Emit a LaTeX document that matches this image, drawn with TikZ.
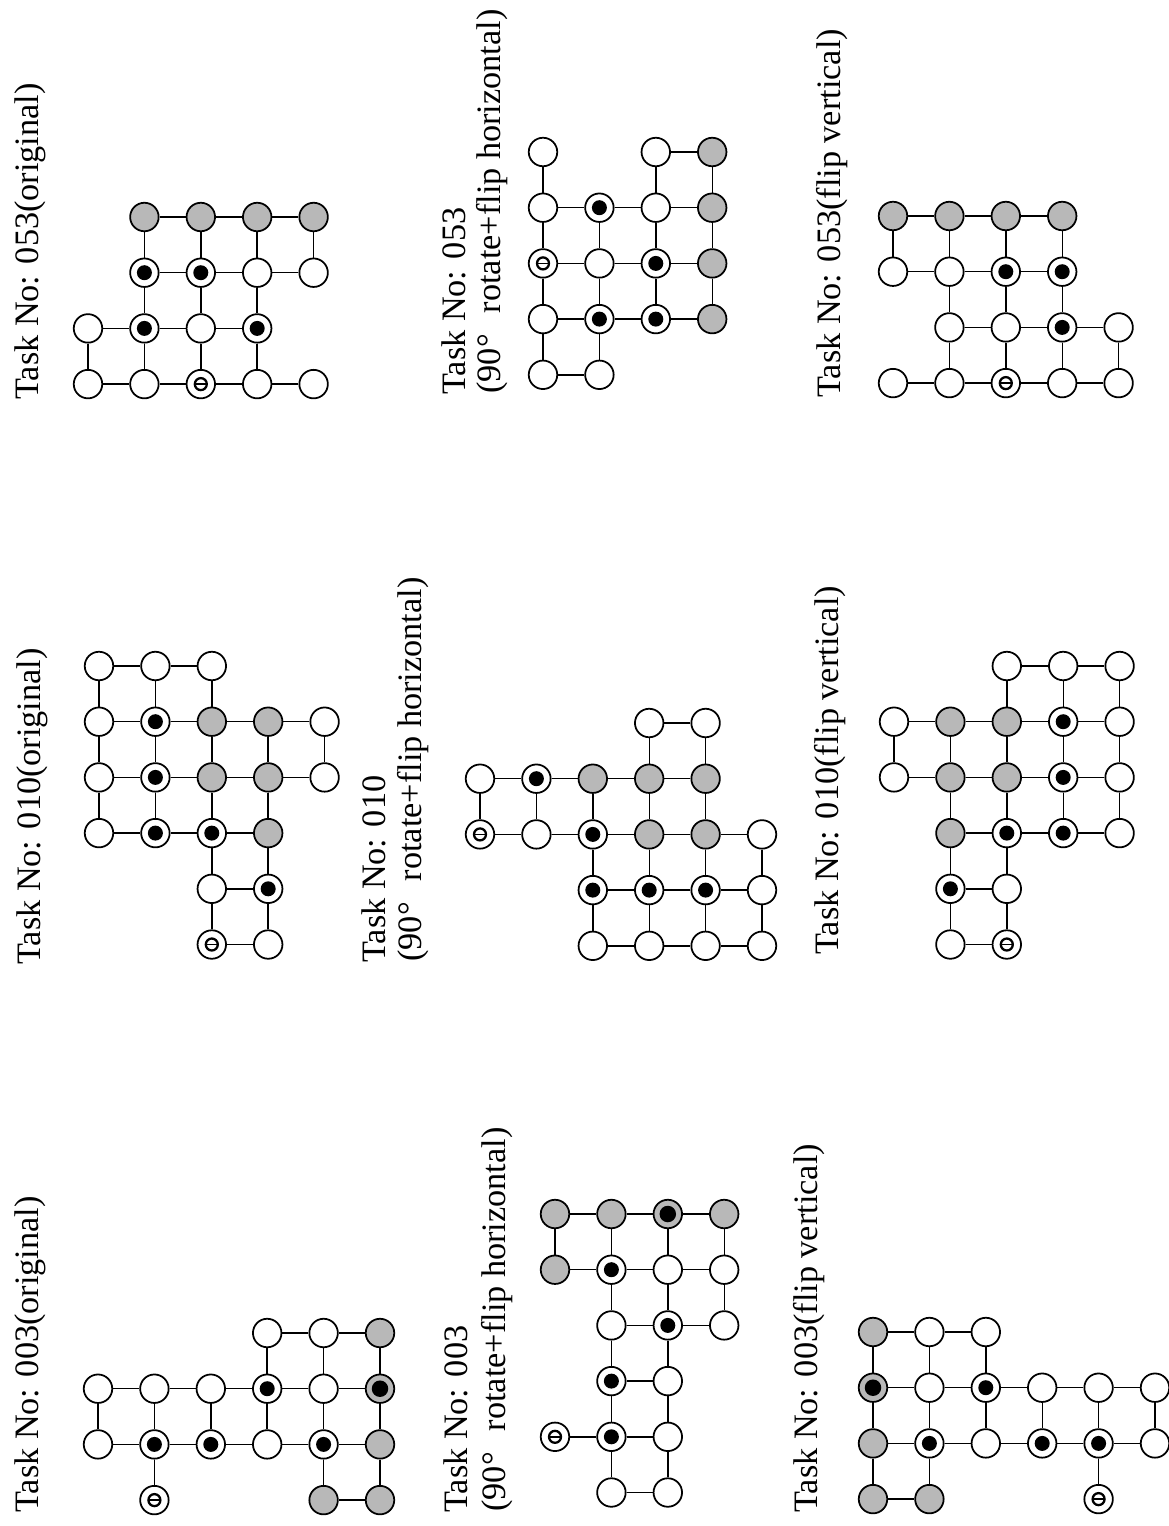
\documentclass[tikz,border=0pt]{standalone}
\usepackage{fontspec}
\setmainfont{Liberation Serif}
\newcommand{\lblfont}{\fontsize{19.5}{20}\selectfont}
\newcommand{\gx}{56.4}
\newcommand{\gy}{55.7}
% #1 name, #2 nodes col/row/kind, #3 row runs, #4 column runs
\newcommand{\taskgrid}[4]{%
  \foreach \cc/\rr/\kind in {#2}
    \node[pt\kind] (#1-\cc-\rr) at (\cc*\gx,\rr*\gy) {};
  \foreach \rr/\ra/\rb in {#3}{
    \pgfmathtruncatemacro\lastc{\rb-1}
    \foreach \cc in {\ra,...,\lastc}{
      \pgfmathtruncatemacro\nextc{\cc+1}
      \draw[ln] (#1-\cc-\rr) -- (#1-\nextc-\rr);
    }
  }
  \foreach \cc/\ra/\rb in {#4}{
    \pgfmathtruncatemacro\lastr{\rb-1}
    \foreach \rr in {\ra,...,\lastr}{
      \pgfmathtruncatemacro\nextr{\rr+1}
      \draw[ln] (#1-\cc-\rr) -- (#1-\cc-\nextr);
    }
  }
}

\begin{document}
\begin{tikzpicture}[x=0.02cm, y=-0.02cm,
    pt/.style={circle, draw, line width=1pt, minimum size=0.57cm, inner sep=0pt, fill=white},
    ptw/.style={pt},
    pts/.style={pt, fill=black!28},
    ptd/.style={pt, path picture={\fill[black] (path picture bounding box.center) circle (0.15cm);}},
    ptx/.style={pt, fill=black!28, path picture={\fill[black] (path picture bounding box.center) circle (0.165cm);}},
    pto/.style={pt, path picture={
        \draw[black, line width=1.3pt] (path picture bounding box.center) circle (0.12cm);
        \draw[black, line width=1pt] ([xshift=-0.12cm]path picture bounding box.center) -- ([xshift=0.12cm]path picture bounding box.center);}},
    ln/.style={line width=0.8pt},
    lbl/.style={rotate=90, anchor=base west, font=\lblfont, inner sep=0pt}
]
\useasboundingbox[fill=white] (0,0) rectangle (1169,1526);

% Task 053
\node[lbl] (t53o) at (38,400) {Task No: 053(original)};
\begin{scope}[shift={(88,217)}]
\taskgrid{p53o}{1/0/s,2/0/s,3/0/s,4/0/s, 1/1/d,2/1/d,3/1/w,4/1/w, 0/2/w,1/2/d,2/2/w,3/2/d, 0/3/w,1/3/w,2/3/o,3/3/w,4/3/w}
  {0/1/4, 1/1/4, 2/0/3, 3/0/4}{0/2/3, 1/0/3, 2/0/3, 3/0/3, 4/0/1}
\end{scope}

\node[lbl] (t53r) at (465,395) {Task No: 053};
\node[lbl] (t53r2) at (500,394) {(90°\hspace{12pt}rotate+flip horizontal)};
\begin{scope}[shift={(543,152)}]
\taskgrid{p53r}{0/0/w,0/1/w,0/2/o,0/3/w,0/4/w, 1/1/d,1/2/w,1/3/d,1/4/w, 2/0/w,2/1/w,2/2/d,2/3/d, 3/0/s,3/1/s,3/2/s,3/3/s}
  {0/2/3, 1/0/3, 2/0/3, 3/0/3, 4/0/1}{0/0/4, 1/1/4, 2/0/3, 3/0/3}
\end{scope}

\node[lbl] (t53f) at (840,398) {Task No: 053(flip vertical)};
\begin{scope}[shift={(893,216)}]
\taskgrid{p53f}{0/0/s,1/0/s,2/0/s,3/0/s, 0/1/w,1/1/w,2/1/d,3/1/d, 1/2/w,2/2/w,3/2/d,4/2/w, 0/3/w,1/3/w,2/3/o,3/3/w,4/3/w}
  {0/0/3, 1/0/3, 2/1/4, 3/0/4}{0/0/1, 1/0/3, 2/0/3, 3/0/3, 4/2/3}
\end{scope}

% Task 010
\node[lbl] (t10o) at (40,965) {Task No: 010(original)};
\begin{scope}[shift={(99,666)}]
\taskgrid{p10o}{0/0/w,1/0/w,2/0/w, 0/1/w,1/1/d,2/1/s,3/1/s,4/1/w, 0/2/w,1/2/d,2/2/s,3/2/s,4/2/w, 0/3/w,1/3/d,2/3/d,3/3/s, 2/4/w,3/4/d, 2/5/o,3/5/w}
  {0/0/2, 1/0/4, 2/0/4, 3/0/3, 4/2/3, 5/2/3}{0/0/3, 1/0/3, 2/0/5, 3/1/5, 4/1/2}
\end{scope}

\node[lbl] (t10r) at (385,963) {Task No: 010};
\node[lbl] (t10r2) at (421,962) {(90°\hspace{12pt}rotate+flip horizontal)};
\begin{scope}[shift={(480,723)}]
\taskgrid{p10r}{3/0/w,4/0/w, 0/1/w,1/1/d,2/1/s,3/1/s,4/1/s, 0/2/o,1/2/w,2/2/d,3/2/s,4/2/s,5/2/w, 2/3/d,3/3/d,4/3/d,5/3/w, 2/4/w,3/4/w,4/4/w,5/4/w}
  {0/3/4, 1/0/4, 2/0/5, 3/2/5, 4/2/5}{0/1/2, 1/1/2, 2/1/4, 3/0/4, 4/0/4, 5/2/4}
\end{scope}

\node[lbl] (t10f) at (838,955) {Task No: 010(flip vertical)};
\begin{scope}[shift={(894,666)}]
\taskgrid{p10f}{2/0/w,3/0/w,4/0/w, 0/1/w,1/1/s,2/1/s,3/1/d,4/1/w, 0/2/w,1/2/s,2/2/s,3/2/d,4/2/w, 1/3/s,2/3/d,3/3/d,4/3/w, 1/4/d,2/4/w, 1/5/w,2/5/o}
  {0/2/4, 1/0/4, 2/0/4, 3/1/4, 4/1/2, 5/1/2}{0/1/2, 1/1/5, 2/0/5, 3/0/3, 4/0/3}
\end{scope}

% Task 003
\node[lbl] (t3o) at (38,1513) {Task No: 003(original)};
\begin{scope}[shift={(98,1333)}]
\taskgrid{p3o}{3/0/w,4/0/w,5/0/s, 0/1/w,1/1/w,2/1/w,3/1/d,4/1/w,5/1/x, 0/2/w,1/2/d,2/2/d,3/2/w,4/2/d,5/2/s, 1/3/o,4/3/s,5/3/s}
  {0/3/5, 1/0/5, 2/0/5, 3/4/5}{0/1/2, 1/1/3, 2/1/2, 3/0/2, 4/0/3, 5/0/3}
\end{scope}

\node[lbl] (t3r) at (467,1513) {Task No: 003};
\node[lbl] (t3r2) at (505,1512) {(90°\hspace{12pt}rotate+flip horizontal)};
\begin{scope}[shift={(555,1214)}]
\taskgrid{p3r}{0/0/s,1/0/s,2/0/x,3/0/s, 0/1/s,1/1/d,2/1/w,3/1/w, 1/2/w,2/2/d,3/2/w, 1/3/d,2/3/w, 0/4/o,1/4/d,2/4/w, 1/5/w,2/5/w}
  {0/0/3, 1/0/3, 2/1/3, 3/1/2, 4/0/2, 5/1/2}{0/0/1, 1/0/5, 2/0/5, 3/0/2}
\end{scope}

\node[lbl] (t3f) at (817,1513) {Task No: 003(flip vertical)};
\begin{scope}[shift={(873,1332)}]
\taskgrid{p3f}{0/0/s,1/0/w,2/0/w, 0/1/x,1/1/w,2/1/d,3/1/w,4/1/w,5/1/w, 0/2/s,1/2/d,2/2/w,3/2/d,4/2/d,5/2/w, 0/3/s,1/3/s,4/3/o}
  {0/0/2, 1/0/5, 2/0/5, 3/0/1}{0/0/3, 1/0/3, 2/0/2, 3/1/2, 4/1/3, 5/1/2}
\end{scope}
\end{tikzpicture}
\end{document}
